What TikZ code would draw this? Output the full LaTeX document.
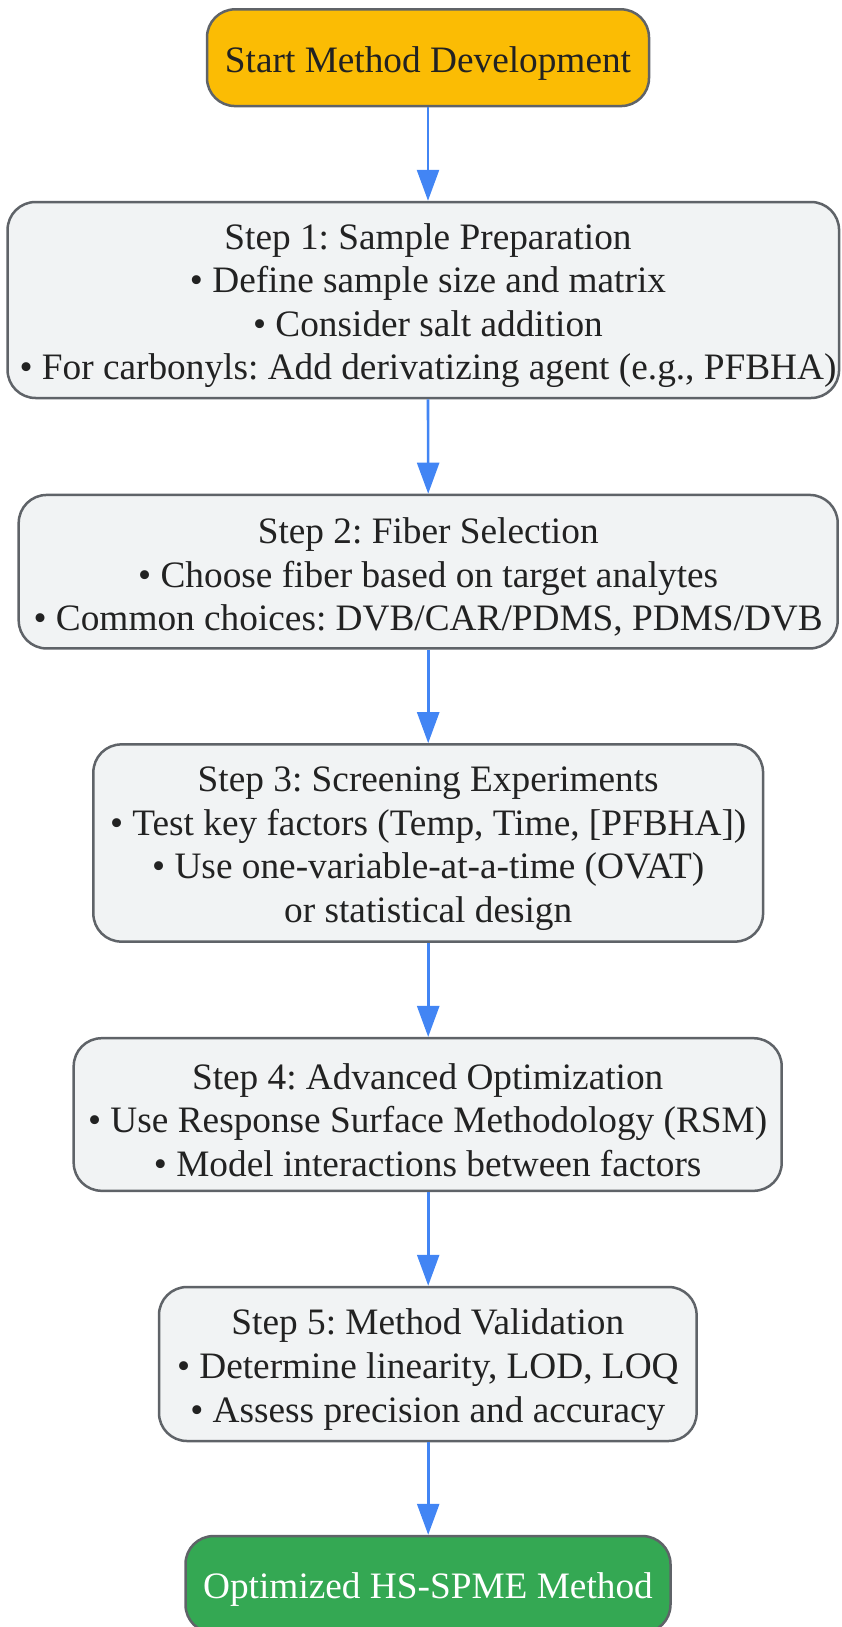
\documentclass[tikz,border=0pt]{standalone}
\usepackage{fontspec}
\setmainfont{Liberation Serif}
\usetikzlibrary{arrows.meta}
\definecolor{txt}{HTML}{222222}
\definecolor{edge}{HTML}{5F6368}
\definecolor{stepfill}{HTML}{F1F3F4}
\definecolor{startfill}{HTML}{FBBC04}
\definecolor{endfill}{HTML}{34A853}
\definecolor{arrowc}{HTML}{4285F4}
\begin{document}
\frenchspacing
\begin{tikzpicture}[x=1pt,y=-1pt,
  box/.style={draw=edge, line width=2.5pt, fill=stepfill, rounded corners=28pt, inner sep=0pt},
  label/.style={align=center, inner sep=0pt, text=txt, font=\frenchspacing\fontsize{37.3}{43.6}\selectfont},
  flow/.style={draw=arrowc, line width=2.6pt, -{Triangle[width=22pt,length=31pt]}}]
\useasboundingbox (0,0) rectangle (842,1627);
\node[box, fill=startfill, minimum width=442pt, minimum height=96.7pt] (start) at (428,57.7) {};
\node[label] (startt) at (428,63.2) {Start Method Development};
\node[box, minimum width=831.5pt, minimum height=196pt] (s1) at (423.3,300) {};
\node[label] (s1t) at (428,305.5) {Step 1: Sample Preparation\\ • Define sample size and matrix\\ • Consider salt addition\\ • For carbonyls: Add derivatizing agent (e.g., PFBHA)};
\node[box, minimum width=819pt, minimum height=153.5pt] (s2) at (428.2,571.7) {};
\node[label] (s2t) at (428.2,577.2) {Step 2: Fiber Selection\\ • Choose fiber based on target analytes\\ • Common choices: DVB/CAR/PDMS, PDMS/DVB};
\node[box, minimum width=669.7pt, minimum height=197.2pt] (s3) at (428.2,843) {};
\node[label] (s3t) at (428.2,848.5) {Step 3: Screening Experiments\\ • Test key factors (Temp, Time, [PFBHA])\\ • Use one-variable-at-a-time (OVAT)\\ or statistical design};
\node[box, minimum width=708pt, minimum height=152.6pt] (s4) at (427.7,1114.5) {};
\node[label] (s4t) at (427.7,1120) {Step 4: Advanced Optimization\\ • Use Response Surface Methodology (RSM)\\ • Model interactions between factors};
\node[box, minimum width=537.6pt, minimum height=154pt] (s5) at (427.8,1364) {};
\node[label] (s5t) at (427.8,1369.5) {Step 5: Method Validation\\ • Determine linearity, LOD, LOQ\\ • Assess precision and accuracy};
\node[box, fill=endfill, minimum width=485pt, minimum height=96.7pt] (end) at (428,1584.4) {};
\node[label, text=white] (endt) at (428,1589.4) {Optimized HS-SPME Method};
\draw[flow] (start.south) -- (s1.north -| start.south);
\draw[flow] (s1.south -| start.south) -- (s2.north);
\draw[flow] (s2.south) -- (s3.north);
\draw[flow] (s3.south) -- (s4.north -| s3.south);
\draw[flow] (s4.south -| s3.south) -- (s5.north -| s3.south);
\draw[flow] (s5.south -| s3.south) -- (end.north -| s3.south);
\end{tikzpicture}
\end{document}
